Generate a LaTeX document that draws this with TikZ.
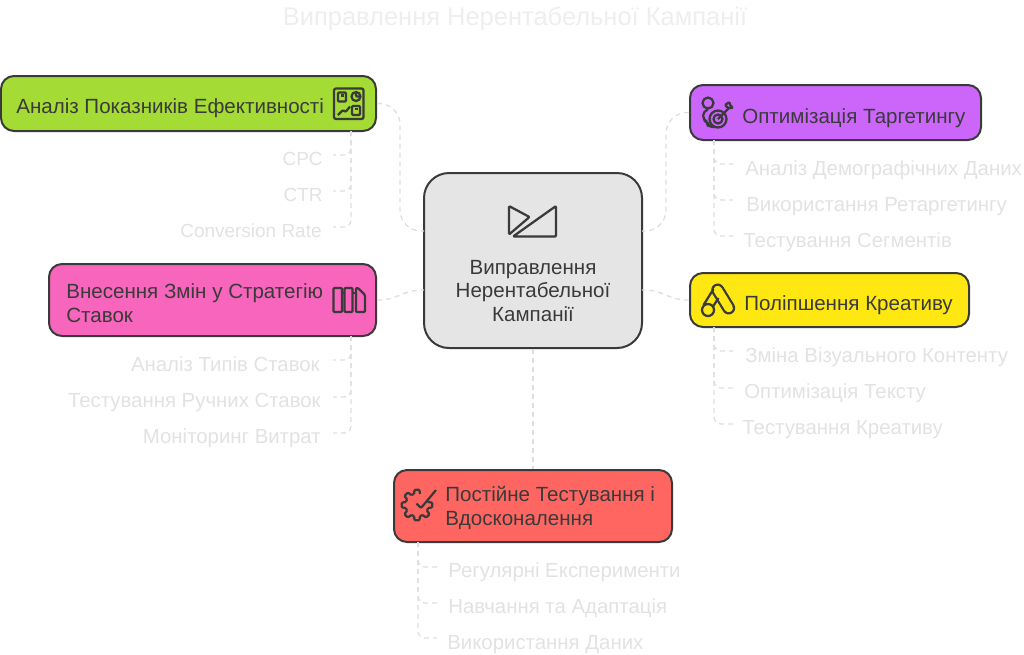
\documentclass[tikz,border=0pt]{standalone}
\usepackage{fontspec}
\setmainfont{Liberation Sans}
\usetikzlibrary{calc,positioning}
\definecolor{inkDark}{HTML}{3A3A3A}
\definecolor{textFaint}{HTML}{E2E2E2}
\definecolor{titleFaint}{HTML}{EEEEEE}
\definecolor{lineFaint}{HTML}{DEDEDE}
\definecolor{fillGreen}{HTML}{A4DB34}
\definecolor{fillPurple}{HTML}{CC66FA}
\definecolor{fillPink}{HTML}{F765BC}
\definecolor{fillYellow}{HTML}{FFE711}
\definecolor{fillRed}{HTML}{FF6661}
\definecolor{fillGrey}{HTML}{E5E5E5}
\newcommand{\pxu}{0.02cm}

\begin{document}
\begin{tikzpicture}[
    x=0.02cm, y=-0.02cm,
    headbox/.style={rectangle, rounded corners=0.26cm, draw=inkDark, line width=0.04cm, inner sep=0pt},
    headtext/.style={text=inkDark, font=\fontsize{11.7}{13.6}\selectfont, inner sep=0pt, align=left},
    leafL/.style={text=textFaint, font=\fontsize{11.6}{13.6}\selectfont, inner sep=0pt, anchor=base east},
    leafR/.style={text=textFaint, font=\fontsize{11.6}{13.6}\selectfont, inner sep=0pt, anchor=base west},
    latinleaf/.style={leafL, font=\fontsize{10.8}{13.6}\selectfont},
    link/.style={draw=lineFaint, line width=0.025cm, dash pattern=on 0.1cm off 0.08cm},
    twig/.style={link, rounded corners=0.14cm},
    icon/.style={draw=inkDark, line width=0.045cm, line join=round, rounded corners=0.02cm},
]
    \useasboundingbox (0,0) rectangle (1024,654);

    \node[text=titleFaint, font=\fontsize{14.5}{16}\selectfont, inner sep=0pt, anchor=base] (title) at (515,25) {Виправлення Нерентабельної Кампанії};

    \node[headbox, fill=fillGrey, rounded corners=0.5cm, minimum width=218*\pxu, minimum height=175*\pxu] (fixcamp) at (533,260.5) {};
    \node[headbox, fill=fillGreen, minimum width=375*\pxu, minimum height=55*\pxu] (perf) at (188.5,103.5) {};
    \node[headbox, fill=fillPurple, minimum width=291*\pxu, minimum height=55*\pxu] (target) at (835.5,112.5) {};
    \node[headbox, fill=fillPink, minimum width=327*\pxu, minimum height=72*\pxu] (bids) at (212.5,300) {};
    \node[headbox, fill=fillYellow, minimum width=279*\pxu, minimum height=54*\pxu] (creative) at (829.5,300) {};
    \node[headbox, fill=fillRed, minimum width=278*\pxu, minimum height=72*\pxu] (testing) at (533,506) {};

    \node[headtext, align=center] (fixcampText) at (533,291) {Виправлення\\Нерентабельної\\Кампанії};
    \node[headtext, anchor=base west] (perfText) at (16,113) {Аналіз Показників Ефективності};
    \node[headtext, anchor=base west] (targetText) at (742,123) {Оптимізація Таргетингу};
    \node[headtext, anchor=west] (bidsText) at (66,303) {Внесення Змін у Стратегію\\Ставок};
    \node[headtext, anchor=base west] (creativeText) at (744,310) {Поліпшення Креативу};
    \node[headtext, anchor=west] (testingText) at (445,508) {Постійне Тестування і\\Вдосконалення};

    \node[latinleaf] (cpc) at (323,165) {CPC};
    \node[latinleaf] (ctr) at (323,201) {CTR};
    \node[latinleaf] (conv) at (322,237) {Conversion Rate};
    \node[leafR] (demo) at (745,175) {Аналіз Демографічних Даних};
    \node[leafR] (retarget) at (746,211) {Використання Ретаргетингу};
    \node[leafR] (segments) at (743,247) {Тестування Сегментів};
    \node[leafL] (bidtypes) at (320,371) {Аналіз Типів Ставок};
    \node[leafL] (manual) at (321,407) {Тестування Ручних Ставок};
    \node[leafL] (spend) at (321,443) {Моніторинг Витрат};
    \node[leafR] (visual) at (745,362) {Зміна Візуального Контенту};
    \node[leafR] (copytext) at (744,398) {Оптимізація Тексту};
    \node[leafR] (crtest) at (742,434) {Тестування Креативу};
    \node[leafR] (regular) at (448,577) {Регулярні Експерименти};
    \node[leafR] (learn) at (448,613) {Навчання та Адаптація};
    \node[leafR] (usedata) at (447,649) {Використання Даних};

    \coordinate (portGreen) at (424,231);
    \coordinate (portPurple) at (642,231);
    \coordinate (portPink) at (424,290);
    \coordinate (portYellow) at (642,290);
    \coordinate (bendLeft) at (400,170);
    \coordinate (bendRight) at (666,170);
    \coordinate (perfFoot) at (351,131);
    \coordinate (bidsFoot) at (351,336);
    \coordinate (targetFoot) at (714,140);
    \coordinate (creativeFoot) at (714,327);
    \coordinate (testingFoot) at (418,542);
    \coordinate (cpcEnd) at (333,155);
    \coordinate (ctrEnd) at (333,191);
    \coordinate (convEnd) at (333,227);
    \coordinate (bidtypesEnd) at (333,360);
    \coordinate (manualEnd) at (333,397);
    \coordinate (spendEnd) at (333,433);
    \coordinate (demoEnd) at (733,164);
    \coordinate (retargetEnd) at (733,200);
    \coordinate (segmentsEnd) at (733,236);
    \coordinate (visualEnd) at (733,351);
    \coordinate (copytextEnd) at (733,388);
    \coordinate (crtestEnd) at (733,424);
    \coordinate (regularEnd) at (437,567);
    \coordinate (learnEnd) at (437,603);
    \coordinate (usedataEnd) at (437,638);

    \draw[link, rounded corners=0.42cm] (perf.east) -| (bendLeft) |- (portGreen);
    \draw[link, rounded corners=0.42cm] (target.west) -| (bendRight) |- (portPurple);
    \draw[link] (bids.east) .. controls (400,300) and (400,290) .. (portPink);
    \draw[link] (creative.west) .. controls (666,300) and (666,290) .. (portYellow);
    \draw[link] (fixcamp.south) -- (testing.north);

    \foreach \e in {cpcEnd,ctrEnd,convEnd} \draw[twig] (perfFoot) |- (\e);
    \foreach \e in {bidtypesEnd,manualEnd,spendEnd} \draw[twig] (bidsFoot) |- (\e);
    \foreach \e in {demoEnd,retargetEnd,segmentsEnd} \draw[twig] (targetFoot) |- (\e);
    \foreach \e in {visualEnd,copytextEnd,crtestEnd} \draw[twig] (creativeFoot) |- (\e);
    \foreach \e in {regularEnd,learnEnd,usedataEnd} \draw[twig] (testingFoot) |- (\e);

    % icons
    \draw[icon] (509,206) -- (529.5,217) -- (509,234.5) -- cycle;
    \draw[icon] (556,206) -- (556,236.5) -- (513,236.5) -- cycle;

    \draw[icon, rounded corners=0.04cm] (334,88.5) rectangle (363.5,119);
    \draw[icon] (338,92.5) rectangle (346,101.5);
    \draw[icon] (340.5,95.5) -- (343.5,95.5);
    \draw[icon] (356,96.5) circle (4.5);
    \draw[icon] (356,92) -- (356,96.5) -- (360.5,96.5);
    \draw[icon] (338,115) -- (343,110) -- (345.5,112) -- (350,106.5);
    \draw[icon] (352,106) rectangle (360,115);
    \draw[icon] (354.5,109) -- (357.5,109);

    \draw[icon] (708,103) circle (5.5);
    \draw[icon, rounded corners=0.08cm] (708,109.5) -- (703.5,111) -- (703,120) -- (708,122) -- (708,127) -- (716,127);
    \draw[icon] (718,119) circle (8.5);
    \draw[icon] (718,119) circle (4.5);
    \draw[icon] (718,119) -- (729,108);
    \draw[icon] (725,105) -- (728,108) -- (733,108) -- (730,105) -- (729.5,102) -- cycle;

    \draw[icon] (333.5,288) rectangle (342,312);
    \draw[icon] (344.5,288) rectangle (352.5,312);
    \draw[icon] (356,312) -- (356,288) -- (358,288) -- (365,295) -- (365,312) -- cycle;
    \draw[icon] (342,293) -- (344.5,293);
    \draw[icon] (352.5,293) -- (356,293);

    \draw[inkDark, line width=0.26cm, line cap=round] (717.7,290) -- (728.7,308);
    \draw[fillYellow, line width=0.17cm, line cap=round] (717.7,290) -- (728.7,308);
    \draw[icon] (708,310) circle (6);
    \draw[icon] (703.5,305) -- (713.5,289);
    \draw[icon] (713,306.5) -- (718.5,298);

    \foreach \a in {-90,0,45,90,135,180,225} {
        \draw[icon] ([shift={(417,505)}]\a-15:11.5) -- ([shift={(417,505)}]\a-9:15.5) -- ([shift={(417,505)}]\a+9:15.5) -- ([shift={(417,505)}]\a+15:11.5);
    }
    \foreach \a in {0,45,90,135,180,225} {
        \draw[icon] ([shift={(417,505)}]\a+15:11.5) -- ([shift={(417,505)}]\a+30:11.5);
    }
    \draw[icon] ([shift={(417,505)}]-15:11.5) -- ([shift={(417,505)}]-25:11);
    \draw[icon] (416.5,503.5) -- (421,508) -- (436,490);
\end{tikzpicture}
\end{document}
